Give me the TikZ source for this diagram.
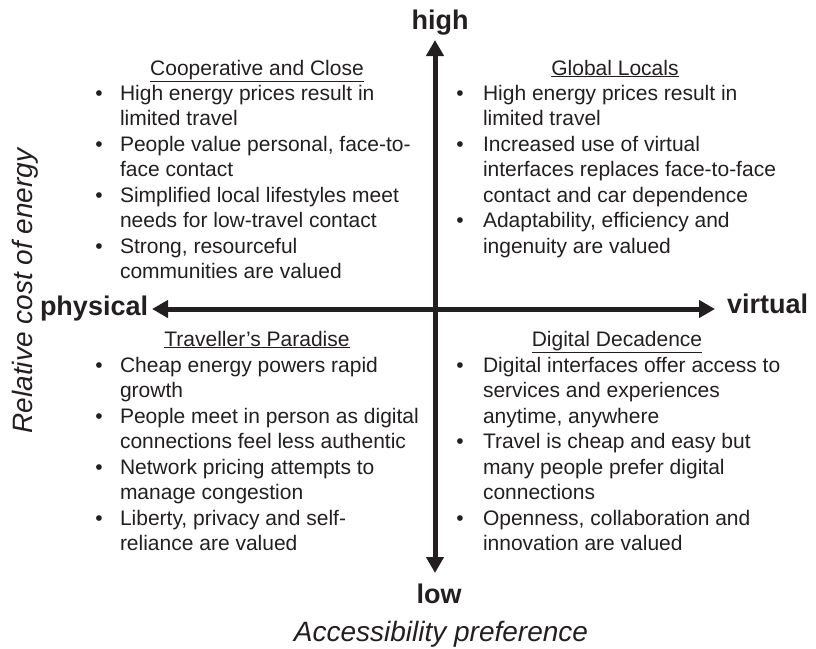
\documentclass[tikz,border=0pt]{standalone}
\usepackage{fontspec}
\setmainfont{Liberation Sans}
\usetikzlibrary{arrows.meta}
\definecolor{ink}{HTML}{231F20}
\begin{document}
\begin{tikzpicture}[x=1pt,y=-1pt,
  every node/.style={inner sep=0pt, outer sep=0pt, text=ink},
  % multi-line bodies are placed by the baseline of their last line
  body/.style={font=\fontsize{21}{25.5}\selectfont, align=left, anchor=base west},
  head/.style={font=\fontsize{21}{25.5}\selectfont, anchor=base},
  dot/.style={font=\fontsize{21}{25.5}\selectfont, anchor=base},
  pole/.style={font=\bfseries\fontsize{27}{30}\selectfont, anchor=base},
  title/.style={font=\itshape\fontsize{28}{32}\selectfont, anchor=base},
  axis/.style={draw=ink, line width=5pt,
    {Triangle[width=17pt,length=16pt]}-{Triangle[width=17pt,length=16pt]}}
]
\useasboundingbox (0,0) rectangle (816,648);

% axes
\coordinate (top) at (435,40);
\coordinate (bottom) at (435,573);
\coordinate (left) at (152,309);
\coordinate (right) at (715,309);
\draw[axis] (bottom) -- (top);
\draw[axis] (left) -- (right);

% pole labels
\node[pole] (high) at (440,29) {high};
\node[pole] (low) at (439,603) {low};
\node[pole, anchor=base west] (physical) at (40,315) {physical};
\node[pole, anchor=base west] (virtual) at (727,313) {virtual};

% axis titles
\node[title] (xtitle) at (441,641) {Accessibility preference};
\node[title, rotate=90] (ytitle) at (32,291) {Relative cost of energy};

% quadrant: top left
\node[head] (tlh) at (257,75) {\underline{Cooperative and Close}};
\node[dot] (tlb1) at (99,100) {\textbullet};
\node[body] (tl1) at (120,125.5) {High energy prices result in\\limited travel};
\node[dot] (tlb2) at (99,151) {\textbullet};
\node[body] (tl2) at (120,176.5) {People value personal, face-to-\\face contact};
\node[dot] (tlb3) at (99,202) {\textbullet};
\node[body] (tl3) at (120,227.5) {Simplified local lifestyles meet\\needs for low-travel contact};
\node[dot] (tlb4) at (99,253) {\textbullet};
\node[body] (tl4) at (120,278.5) {Strong, resourceful\\communities are valued};

% quadrant: top right
\node[head] (trh) at (615,75) {\underline{Global Locals}};
\node[dot] (trb1) at (460,100) {\textbullet};
\node[body] (tr1) at (483,125.5) {High energy prices result in\\limited travel};
\node[dot] (trb2) at (460,151) {\textbullet};
\node[body] (tr2) at (483,202) {Increased use of virtual\\interfaces replaces face-to-face\\contact and car dependence};
\node[dot] (trb3) at (460,227.5) {\textbullet};
\node[body] (tr3) at (483,253) {Adaptability, efficiency and\\ingenuity are valued};

% quadrant: bottom left
\node[head] (blh) at (257,346) {\underline{Traveller’s Paradise}};
\node[dot] (blb1) at (99,372) {\textbullet};
\node[body] (bl1) at (120,397.5) {Cheap energy powers rapid\\growth};
\node[dot] (blb2) at (99,423) {\textbullet};
\node[body] (bl2) at (120,448.5) {People meet in person as digital\\connections feel less authentic};
\node[dot] (blb3) at (99,474) {\textbullet};
\node[body] (bl3) at (120,499.5) {Network pricing attempts to\\manage congestion};
\node[dot] (blb4) at (99,525) {\textbullet};
\node[body] (bl4) at (120,550.5) {Liberty, privacy and self-\\reliance are valued};

% quadrant: bottom right
\node[head] (brh) at (617,346) {\underline{Digital Decadence}};
\node[dot] (brb1) at (460,372) {\textbullet};
\node[body] (br1) at (483,423) {Digital interfaces offer access to\\services and experiences\\anytime, anywhere};
\node[dot] (brb2) at (460,448.5) {\textbullet};
\node[body] (br2) at (483,499.5) {Travel is cheap and easy but\\many people prefer digital\\connections};
\node[dot] (brb3) at (460,525) {\textbullet};
\node[body] (br3) at (483,550.5) {Openness, collaboration and\\innovation are valued};
\end{tikzpicture}
\end{document}
